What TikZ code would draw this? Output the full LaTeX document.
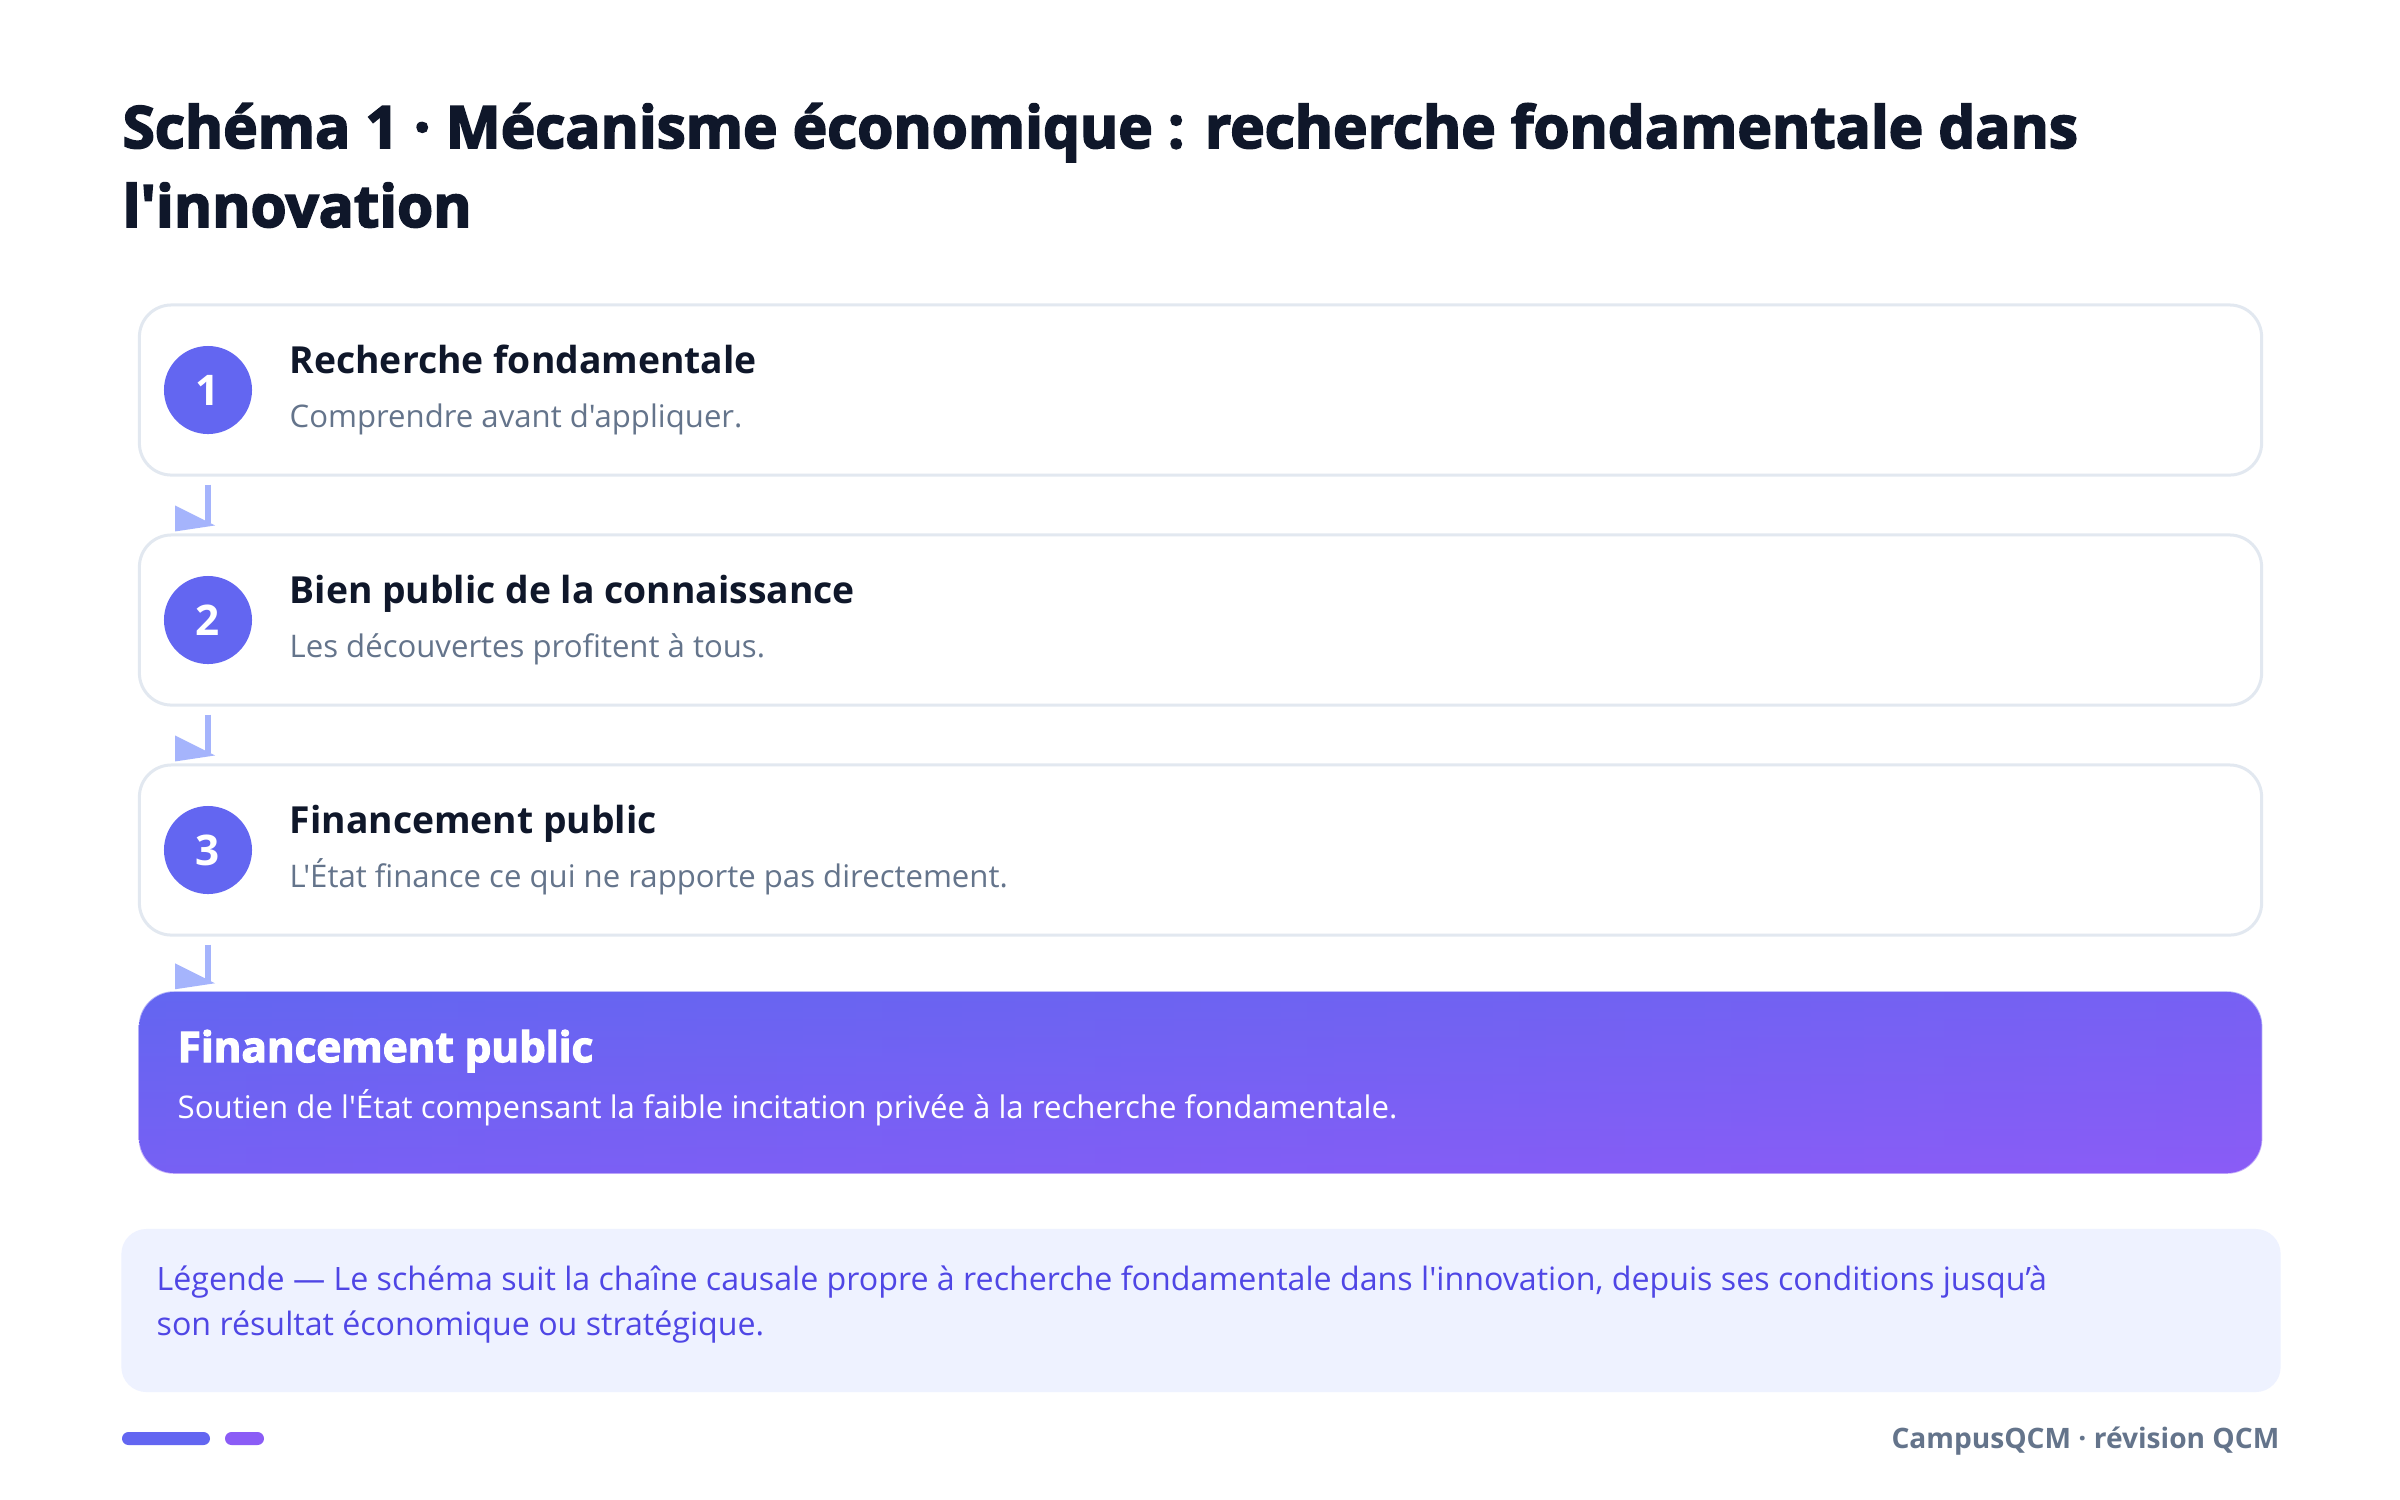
\documentclass[tikz,border=0pt]{standalone}
\usepackage{fontspec}
\setmainfont{Open Sans}[Ligatures=TeXOff]
\newfontfamily\heavyfont{Open Sans}[Ligatures=TeXOff,BoldFeatures={FakeBold=3}]
\usetikzlibrary{calc}
\definecolor{ink}{HTML}{0F172A}
\definecolor{muted}{HTML}{64748B}
\definecolor{edge}{HTML}{E2E8F0}
\definecolor{indigo}{HTML}{6366F1}
\definecolor{violet}{HTML}{8B5CF6}
\definecolor{flow}{HTML}{A5B4FC}
\definecolor{notebg}{HTML}{EEF2FF}
\definecolor{notefg}{HTML}{4F46E5}
\begin{document}
\begin{tikzpicture}[x=0.01cm,y=-0.01cm,
    stepbox/.style={draw=edge,line width=0.03cm,fill=white,rounded corners=0.32cm,minimum width=21.21cm,minimum height=1.70cm},
    badge/.style={circle,fill=indigo,text=white,inner sep=0pt,minimum size=0.88cm,font=\fontsize{12}{14}\selectfont\bfseries},
    steptitle/.style={anchor=base west,inner sep=0pt,text=ink,font=\fontsize{10.6}{13}\selectfont\bfseries},
    stepnote/.style={anchor=base west,inner sep=0pt,text=muted,font=\fontsize{8.85}{11}\selectfont},
    flowline/.style={draw=flow,line width=0.06cm,shorten <=0.08cm,shorten >=0.10cm}]
  \fill[white] (0,0) rectangle (2400,1499);
  \useasboundingbox (0,0) rectangle (2400,1499);
  % title
  \node[anchor=base west,inner sep=0pt,text=ink,font=\heavyfont\fontsize{16.6}{20}\selectfont\bfseries] (head1) at (122,148) {Schéma 1 · Mécanisme économique : recherche fondamentale dans};
  \node[anchor=base west,inner sep=0pt,text=ink,font=\heavyfont\fontsize{16.6}{20}\selectfont\bfseries] (head2) at (122,227) {l'innovation};
  % steps
  \foreach \i/\y/\t/\n in {1/390/Recherche fondamentale/Comprendre avant d'appliquer.,
      2/620/Bien public de la connaissance/Les découvertes profitent à tous.,
      3/850/Financement public/L'État finance ce qui ne rapporte pas directement.}{
    \node[stepbox] (s\i) at (1200.5,\y) {};
    \node[badge] (n\i) at (208,\y) {\i};
    \node[steptitle] (t\i) at (289,\y-17) {\t};
    \node[stepnote] (d\i) at (289,\y+37) {\n};
  }
  % result: two half-strength shadings give the corner to corner blend
  \node[left color=indigo,right color=violet,rounded corners=0.35cm,minimum width=21.21cm,minimum height=1.81cm] (fin) at (1200.5,1082.5) {};
  \path[top color=indigo,bottom color=violet,fill opacity=0.5,rounded corners=0.35cm] (fin.north west) rectangle (fin.south east);
  \node[anchor=base west,inner sep=0pt,text=white,font=\heavyfont\fontsize{12}{14}\selectfont\bfseries] (fint) at (177,1062) {Financement public};
  \node[anchor=base west,inner sep=0pt,text=white,font=\fontsize{8.87}{11}\selectfont] (finn) at (177,1118) {Soutien de l'État compensant la faible incitation privée à la recherche fondamentale.};
  % arrows
  \foreach \a/\b in {s1/s2,s2/s3,s3/fin}{
    \draw[flowline] (\a.south -| n1) -- (\b.north -| n1);
    \fill[flow] ($(\b.north -| n1)+(-33,-28)$) -- ($(\b.north -| n1)+(-33,-2)$) -- ($(\b.north -| n1)+(7,-8)$) -- cycle;
  }
  % legend
  \node[fill=notebg,rounded corners=0.25cm,minimum width=21.58cm,minimum height=1.63cm] (legend) at (1201,1310.5) {};
  \node[anchor=base west,inner sep=0pt,text=notefg,font=\fontsize{9.15}{11}\selectfont] (leg1) at (156,1290) {Légende — Le schéma suit la chaîne causale propre à recherche fondamentale dans l'innovation, depuis ses conditions jusqu’à};
  \node[anchor=base west,inner sep=0pt,text=notefg,font=\fontsize{9.15}{11}\selectfont] (leg2) at (156,1335) {son résultat économique ou stratégique.};
  % footer
  \fill[indigo,rounded corners=0.065cm] (122,1432) rectangle (210,1445);
  \fill[violet,rounded corners=0.065cm] (225,1432) rectangle (264,1445);
  \node[anchor=base east,inner sep=0pt,text=muted,font=\fontsize{8}{10}\selectfont\bfseries] (brand) at (2280,1448) {CampusQCM · révision QCM};
\end{tikzpicture}
\end{document}
